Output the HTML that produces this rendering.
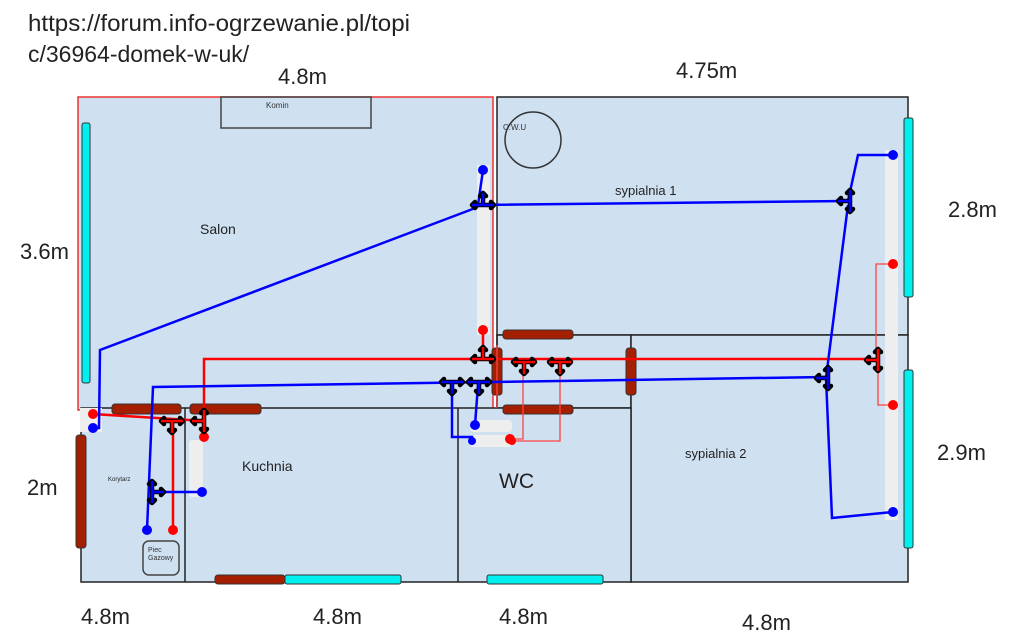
<!DOCTYPE html>
<html><head><meta charset="utf-8"><style>
html,body{margin:0;padding:0;background:#fff;}
svg{display:block;font-family:"Liberation Sans",sans-serif;}
</style></head><body>
<svg width="1024" height="644" viewBox="0 0 1024 644" xmlns="http://www.w3.org/2000/svg">
<defs>
<g id="tee"><path d="M-11,0 H11 M0,0 V12 M-11,0 l3,-3 M-11,0 l3,3 M11,0 l-3,-3 M11,0 l-3,3 M0,12 l-3,-3 M0,12 l3,-3" stroke="#000" stroke-width="4.5" fill="none" stroke-linecap="round"/></g>
</defs>
<rect width="1024" height="644" fill="#fff"/>
<!-- rooms -->
<rect x="78" y="97" width="415" height="313" fill="#cfe0f1" stroke="#e33" stroke-width="1.5"/>
<rect x="497" y="97" width="411" height="238" fill="#cfe0f1" stroke="#222" stroke-width="1.5"/>
<rect x="497" y="335" width="134" height="73" fill="#cfe0f1" stroke="#222" stroke-width="1.5"/>
<rect x="631" y="335" width="277" height="247" fill="#cfe0f1" stroke="#222" stroke-width="1.5"/>
<rect x="81" y="408" width="550" height="174" fill="#cfe0f1" stroke="#222" stroke-width="1.5"/>
<line x1="185" y1="408" x2="185" y2="582" stroke="#222" stroke-width="1.5"/>
<line x1="458" y1="408" x2="458" y2="582" stroke="#222" stroke-width="1.5"/>
<line x1="497" y1="335" x2="497" y2="408" stroke="#222" stroke-width="1.5"/>
<rect x="221" y="97" width="150" height="31" fill="none" stroke="#444" stroke-width="1.5"/>
<text x="266" y="108" font-size="8" fill="#333">Komin</text>
<circle cx="533" cy="140" r="28" fill="none" stroke="#333" stroke-width="1.5"/>
<text x="503" y="130" font-size="8" fill="#333">C.W.U</text>
<rect x="143" y="541" width="36" height="34" rx="6" fill="none" stroke="#444" stroke-width="1.5"/>
<text x="148" y="552" font-size="7" fill="#333">Piec</text>
<text x="148" y="560" font-size="7" fill="#333">Gazowy</text>
<!-- light strips -->
<g fill="#eeeeee">
<rect x="477" y="165" width="13" height="170"/>
<rect x="885" y="150" width="13" height="370"/>
<rect x="189" y="440" width="14" height="57" rx="3"/>
<rect x="80" y="408" width="22" height="24"/>
<rect x="470" y="420" width="42" height="12" rx="4"/>
<rect x="470" y="435" width="42" height="12" rx="4"/>
</g>
<!-- radiators -->
<g fill="#a41e00" stroke="#333" stroke-width="1">
<rect x="112" y="404" width="69" height="10" rx="3"/>
<rect x="190" y="404" width="71" height="10" rx="3"/>
<rect x="503" y="330" width="70" height="9" rx="3"/>
<rect x="503" y="405" width="70" height="9" rx="3"/>
<rect x="492" y="348" width="10" height="47" rx="3"/>
<rect x="626" y="348" width="10" height="47" rx="3"/>
<rect x="76" y="435" width="10" height="113" rx="3"/>
<rect x="215" y="575" width="70" height="9" rx="3"/>
</g>
<g fill="#00f0f0" stroke="#333" stroke-width="1">
<rect x="82" y="123" width="8" height="260" rx="2"/>
<rect x="904" y="118" width="9" height="179" rx="2"/>
<rect x="904" y="370" width="9" height="178" rx="2"/>
<rect x="285" y="575" width="116" height="9" rx="2"/>
<rect x="487" y="575" width="116" height="9" rx="2"/>
</g>
<!-- red pipes -->
<g stroke="#f00" fill="none" stroke-width="2.5">
<polyline points="204,430 204,359 880,359"/>
<line x1="93" y1="414" x2="205" y2="421"/>
<line x1="173" y1="423" x2="173" y2="530"/>
<line x1="483" y1="330" x2="483" y2="357"/>
</g>
<g stroke="#f44" fill="none" stroke-width="1.3">
<polyline points="523,365 523,439 510,439"/>
<polyline points="560,365 560,441 513,441"/>
<polyline points="876,360 876,264 893,264"/>
<polyline points="878,370 878,405 893,405"/>
<line x1="497" y1="345" x2="497" y2="408"/>
</g>
<g fill="#f00">
<circle cx="93" cy="414" r="5"/><circle cx="173" cy="530" r="5"/><circle cx="204" cy="437" r="5"/>
<circle cx="483" cy="330" r="5"/><circle cx="510" cy="439" r="5"/><circle cx="512" cy="441" r="4"/>
<circle cx="893" cy="264" r="5"/><circle cx="893" cy="405" r="5"/>
</g>
<!-- blue pipes -->
<g stroke="#00f" fill="none" stroke-width="2.5">
<polyline points="483,170 478,205 848,201"/>
<polyline points="848,201 858,155 893,155"/>
<polyline points="848,205 826,378 832,518 893,512"/>
<polyline points="478,207 100,350 99,428 93,428"/>
<polyline points="147,530 153,387 826,377"/>
<line x1="152" y1="492" x2="202" y2="492"/>
<polyline points="452,385 452,437 472,437 472,441"/>
<polyline points="478,385 475,425"/>
</g>
<g fill="#00f">
<circle cx="483" cy="170" r="5"/><circle cx="893" cy="155" r="5"/><circle cx="893" cy="512" r="5"/>
<circle cx="93" cy="428" r="5"/><circle cx="147" cy="530" r="5"/><circle cx="202" cy="492" r="5"/>
<circle cx="475" cy="425" r="5"/><circle cx="472" cy="441" r="4"/>
</g>
<!-- tees -->
<g>
<g transform="translate(483,205) rotate(180)"><use href="#tee"/><path d="M-11,0 H11 M0,0 V12" stroke="#00f" stroke-width="2.5"/></g>
<g transform="translate(850,201) rotate(90)"><use href="#tee"/><path d="M-11,0 H11 M0,0 V12" stroke="#00f" stroke-width="2.5"/></g>
<g transform="translate(828,378) rotate(90)"><use href="#tee"/><path d="M-11,0 H11 M0,0 V12" stroke="#00f" stroke-width="2.5"/></g>
<g transform="translate(452,382)"><use href="#tee"/><path d="M-11,0 H11 M0,0 V12" stroke="#00f" stroke-width="2.5"/></g>
<g transform="translate(479,382)"><use href="#tee"/><path d="M-11,0 H11 M0,0 V12" stroke="#00f" stroke-width="2.5"/></g>
<g transform="translate(152,492) rotate(-90)"><use href="#tee"/><path d="M-11,0 H11 M0,0 V12" stroke="#00f" stroke-width="2.5"/></g>
<g transform="translate(483,359) rotate(180)"><use href="#tee"/><path d="M-11,0 H11 M0,0 V12" stroke="#f00" stroke-width="2.5"/></g>
<g transform="translate(524,362)"><use href="#tee"/><path d="M-11,0 H11 M0,0 V12" stroke="#f00" stroke-width="2.5"/></g>
<g transform="translate(560,362)"><use href="#tee"/><path d="M-11,0 H11 M0,0 V12" stroke="#f00" stroke-width="2.5"/></g>
<g transform="translate(878,360) rotate(90)"><use href="#tee"/><path d="M-11,0 H11 M0,0 V12" stroke="#f00" stroke-width="2.5"/></g>
<g transform="translate(172,421)"><use href="#tee"/><path d="M-11,0 H11 M0,0 V12" stroke="#f00" stroke-width="2.5"/></g>
<g transform="translate(204,421) rotate(90)"><use href="#tee"/><path d="M-11,0 H11 M0,0 V12" stroke="#f00" stroke-width="2.5"/></g>
</g>
<!-- labels -->
<g fill="#222">
<text x="28" y="31" font-size="23" textLength="382" lengthAdjust="spacingAndGlyphs">https://forum.info-ogrzewanie.pl/topi</text>
<text x="28" y="62" font-size="23">c/36964-domek-w-uk/</text>
<text x="278" y="84" font-size="22">4.8m</text>
<text x="676" y="78" font-size="22">4.75m</text>
<text x="20" y="259" font-size="22">3.6m</text>
<text x="948" y="217" font-size="22">2.8m</text>
<text x="937" y="460" font-size="22">2.9m</text>
<text x="27" y="495" font-size="22">2m</text>
<text x="81" y="624" font-size="22">4.8m</text>
<text x="313" y="624" font-size="22">4.8m</text>
<text x="499" y="624" font-size="22">4.8m</text>
<text x="742" y="630" font-size="22">4.8m</text>
<text x="200" y="234" font-size="14">Salon</text>
<text x="615" y="195" font-size="13">sypialnia 1</text>
<text x="685" y="458" font-size="13">sypialnia 2</text>
<text x="242" y="471" font-size="14">Kuchnia</text>
<text x="499" y="488" font-size="21">WC</text>
<text x="108" y="481" font-size="6">Korytarz</text>
</g>
</svg>
</body></html>
